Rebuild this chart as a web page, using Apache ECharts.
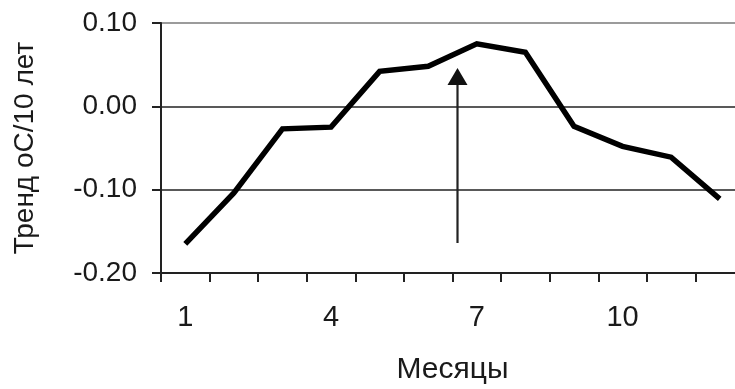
<!DOCTYPE html>
<html>
<head>
<meta charset="utf-8">
<script src="https://cdn.jsdelivr.net/npm/echarts@6/dist/echarts.min.js"></script>
<style>
html,body{margin:0;padding:0;background:#fff;}
#chart{width:735px;height:389px;}
</style>
</head>
<body>
<div id="chart"></div>
<script>
// Data
var months = ['1','2','3','4','5','6','7','8','9','10','11','12'];
var trend = [-0.165, -0.104, -0.027, -0.025, 0.042, 0.048, 0.075, 0.065, -0.024, -0.048, -0.061, -0.111];
var yTicks = [-0.20, -0.10, 0.00, 0.10];
var yTitle = 'Тренд оС/10 лет';
var xTitle = 'Месяцы';

var FONT = '"Liberation Sans", Arial, sans-serif';
var chart = echarts.init(document.getElementById('chart'));

// arrow annotation (pixel positions)
var arrowX = 457.5, arrowBottom = 243, arrowTip = 68, headW = 20, headH = 17;

chart.setOption({
  animation: false,
  backgroundColor: '#fff',
  grid: { left: 161, top: 23, width: 583, bottom: 116, containLabel: false, outerBoundsMode: 'none' },
  xAxis: {
    type: 'category',
    data: months,
    boundaryGap: true,
    axisLine: { onZero: false, lineStyle: { color: '#222', width: 2 } },
    axisTick: { show: true, interval: 0, length: 9, lineStyle: { color: '#222', width: 2 } },
    axisLabel: { interval: 2, color: '#1a1a1a', fontSize: 29, fontFamily: FONT, margin: 30 },
    splitLine: { show: false },
    name: xTitle,
    nameLocation: 'middle',
    nameGap: 82,
    nameTextStyle: { color: '#1a1a1a', fontSize: 30, fontFamily: FONT }
  },
  yAxis: {
    type: 'value',
    min: yTicks[0],
    max: yTicks[yTicks.length - 1],
    interval: 0.1,
    axisLine: { show: true, lineStyle: { color: '#222', width: 2 } },
    axisTick: { show: true, length: 9, lineStyle: { color: '#222', width: 2 } },
    axisLabel: {
      color: '#1a1a1a', fontSize: 28, fontFamily: FONT, margin: 24,
      formatter: function (v) { return v.toFixed(2); }
    },
    splitLine: { show: true, lineStyle: { color: ['#222', '#222', '#222', '#7a7a7a'], width: 1.5 } },
    name: yTitle,
    nameLocation: 'middle',
    nameRotate: 90,
    nameGap: 122,
    nameTextStyle: { color: '#1a1a1a', fontSize: 28, fontFamily: FONT }
  },
  series: [{
    type: 'line',
    data: trend,
    symbol: 'none',
    lineStyle: { color: '#000', width: 5.5, join: 'miter' },
    z: 5
  }],
  graphic: [
    {
      type: 'line',
      shape: { x1: arrowX, y1: arrowBottom, x2: arrowX, y2: arrowTip + headH - 2 },
      style: { stroke: '#222', lineWidth: 2.2 },
      z: 10
    },
    {
      type: 'polygon',
      shape: { points: [[arrowX, arrowTip], [arrowX - headW / 2, arrowTip + headH], [arrowX + headW / 2, arrowTip + headH]] },
      style: { fill: '#111' },
      z: 10
    }
  ]
});
</script>
</body>
</html>
